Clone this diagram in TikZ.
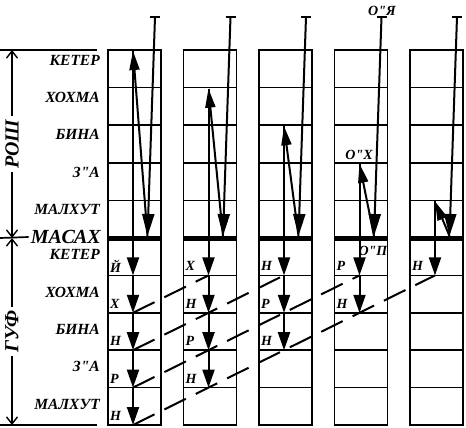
\documentclass[tikz,border=0pt]{standalone}
\usepackage{fontspec}
\newfontfamily\kab{Liberation Serif}
\usetikzlibrary{arrows.meta}
\newcommand{\gufletter}[1]{\ifcase#1\or Й\or Х\or Н\or Р\or Н\fi}

\begin{document}
\begin{tikzpicture}[x=1pt, y=-1pt,
  every node/.style={font=\kab\bfseries\itshape\fontsize{15.5}{15.5}\selectfont, inner sep=0pt},
  cell/.style={line width=1.7pt},
  masach/.style={line width=5pt},
  ray/.style={line width=2pt},
  downtip/.style={-{Triangle[length=22pt,width=12pt]}},
  uptip/.style={-{Triangle[length=19pt,width=10pt]}},
  guftip/.style={-{Triangle[length=18pt,width=12pt]}},
  reshimo/.style={ray, dash pattern=on 24pt off 11pt},
  dim/.style={line width=1.4pt, {Straight Barb[length=7pt,width=11pt]}-{Straight Barb[length=7pt,width=11pt]}},
  sefira/.style={anchor=east},
  bigname/.style={font=\kab\bfseries\itshape\fontsize{20}{20}\selectfont},
  letter/.style={anchor=west, font=\kab\bfseries\itshape\fontsize{14}{14}\selectfont}]
  \useasboundingbox (0,0) rectangle (466,428);

  % sefirot of rosh
  \node[sefira] (rketer) at (100,60) {КЕТЕР};
  \node[sefira] (rhochma) at (100,97) {ХОХМА};
  \node[sefira] (rbina) at (100,134) {БИНА};
  \node[sefira] (rza) at (100,172) {З"А};
  \node[sefira] (rmalchut) at (100,209) {МАЛХУТ};
  % sefirot of guf
  \node[sefira] (gketer) at (100,254) {КЕТЕР};
  \node[sefira] (ghochma) at (100,292) {ХОХМА};
  \node[sefira] (gbina) at (100,329) {БИНА};
  \node[sefira] (gza) at (100,366) {З"А};
  \node[sefira] (gmalchut) at (100,404) {МАЛХУТ};

  % rosh / guf dimensions
  \coordinate (rtop) at (12,50);
  \coordinate (mid) at (12,238);
  \coordinate (gbot) at (12,425);
  \draw[cell] (0,50) -- (97,50);
  \draw[cell] (0,425) -- (97,425);
  \node[bigname, anchor=east] (masachlbl) at (101,237) {МАСАХ};
  \draw[cell] (0,238) -- ([xshift=-2pt]masachlbl.west);
  \draw[dim] (rtop) -- node[bigname, rotate=90, fill=white, inner xsep=4pt] (rosh) {РОШ} (mid);
  \draw[dim] (mid) -- node[bigname, rotate=90, fill=white, inner xsep=4pt] (guf) {ГУФ} (gbot);

  % partzufim
  \foreach \c in {1,...,5} {
    \pgfmathsetmacro\xl{108+75.5*(\c-1)}
    \pgfmathsetmacro\yu{51+37.6*(\c-1)}
    \pgfmathtruncatemacro\n{6-\c}
    \draw[cell] (\xl,50) rectangle (\xl+53,425);
    \foreach \i in {1,...,4} {
      \draw[cell] (\xl,50+37.6*\i) -- (\xl+53,50+37.6*\i);
      \draw[cell] (\xl,238+37.4*\i) -- (\xl+53,238+37.4*\i);
    }
    \draw[masach] (\xl,238) -- (\xl+53,238);
    \coordinate (T\c) at (\xl+47,17);
    \coordinate (D\c) at (\xl+39.5,236);
    \coordinate (U\c) at (\xl+25,\yu);
    \coordinate (G\c-0) at (\xl+25,238);
    \draw[ray] ([xshift=-5pt]T\c) -- ([xshift=5pt]T\c);
    \draw[ray,downtip] (T\c) -- (D\c);
    \draw[ray,uptip] (D\c) -- (U\c);
    \draw[ray] (U\c) -- (G\c-0);
    \foreach \r in {1,...,\n} {
      \pgfmathtruncatemacro\p{\r-1}
      \pgfmathtruncatemacro\k{\c+\r-1}
      \coordinate (G\c-\r) at (\xl+25,238+37.4*\r);
      \draw[ray,guftip] (G\c-\p) -- (G\c-\r);
      \node[letter] (l\c-\r) at (\xl+2,229+37.4*\r) {\gufletter{\k}};
    }
  }

  % reshimot
  \foreach \k in {2,...,5}
    \draw[reshimo] (G1-\k) -- (G\k-1);

  \node[letter, anchor=center] (oya) at (382,11) {О"Я};
  \node[letter, anchor=center] (ohas) at (359,155) {О"Х};
  \node[letter, anchor=center] (opas) at (373,251) {О"П};
\end{tikzpicture}
\end{document}
